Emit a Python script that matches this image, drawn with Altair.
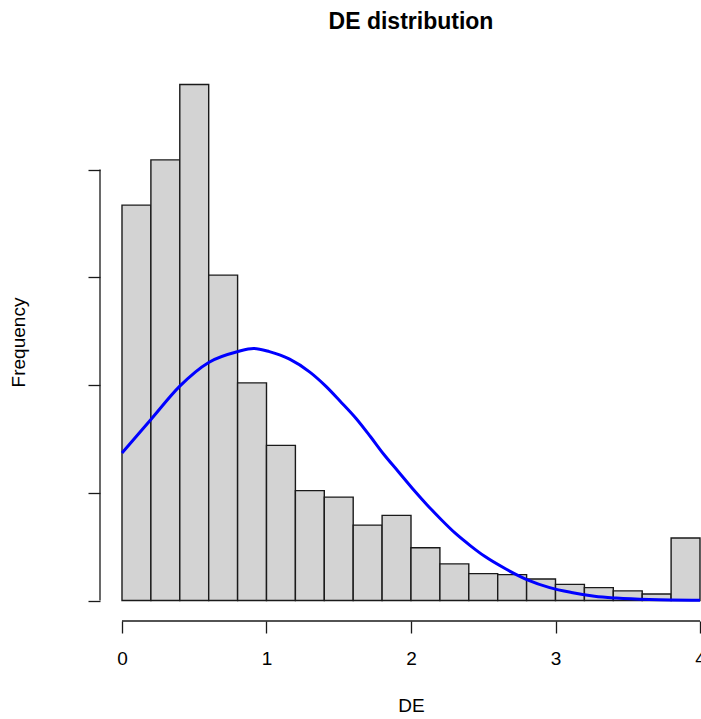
import altair as alt
import pandas as pd

# Histogram of DE values: bin edges (width 0.2) and counts per bin
bin_lo = [0.0, 0.2, 0.4, 0.6, 0.8, 1.0, 1.2, 1.4, 1.6, 1.8,
          2.0, 2.2, 2.4, 2.6, 2.8, 3.0, 3.2, 3.4, 3.6, 3.8]
bin_hi = [0.2, 0.4, 0.6, 0.8, 1.0, 1.2, 1.4, 1.6, 1.8, 2.0,
          2.2, 2.4, 2.6, 2.8, 3.0, 3.2, 3.4, 3.6, 3.8, 4.0]
counts = [367, 409, 479, 302, 202, 144, 102, 96, 70, 79,
          49, 34, 25, 24, 20, 15, 12, 9, 6, 58]

# Fitted normal curve, scaled to frequency
curve_x = [0.00, 0.20, 0.40, 0.60, 0.80, 0.91, 1.02, 1.16, 1.30, 1.41,
           1.51, 1.62, 1.72, 1.81, 1.91, 2.01, 2.11, 2.21, 2.31, 2.41,
           2.51, 2.66, 2.81, 2.96, 3.11, 3.27, 3.42, 3.65, 4.00]
curve_y = [137, 168, 199, 221, 231, 234, 231, 224, 212, 199,
           185, 169, 152, 136, 120, 104, 89, 75, 62, 51,
           41, 29, 19, 12, 7.5, 4, 2.3, 0.9, 0.2]

# Axis ticks
x_ticks = [0, 1, 2, 3, 4]
y_ticks = [0, 100, 200, 300, 400]

FONT = "Liberation Sans"
INK = "#1a1a1a"

hist_df = pd.DataFrame({"lo": bin_lo, "hi": bin_hi, "n": counts})
curve_df = pd.DataFrame({"x": curve_x, "y": curve_y})
xaxis_df = pd.DataFrame({"a": [min(x_ticks)], "b": [max(x_ticks)]})
yaxis_df = pd.DataFrame({"a": [min(y_ticks)], "b": [max(y_ticks)]})

x_scale = alt.Scale(domain=[-0.1522, 4.0069], nice=False, zero=False)
y_scale = alt.Scale(domain=[-19, 498], nice=False, zero=False)

x_axis = alt.Axis(
    values=x_ticks, format="d", domain=False, grid=False, tickSize=12,
    tickColor=INK, tickWidth=1.3, labelFont=FONT, labelFontSize=19,
    labelColor="#000", labelBaseline="middle", labelPadding=25,
    labelFlush=False, labelOverlap=False, title="DE", titleFont=FONT,
    titleFontSize=19, titleFontWeight="normal", titleColor="#000",
    titleBaseline="middle", titleY=84, titleX=311,
)
y_axis = alt.Axis(
    values=y_ticks, domain=False, grid=False, labels=False, tickSize=12,
    tickColor=INK, tickWidth=1.3, title="Frequency", titleFont=FONT,
    titleFontSize=19, titleFontWeight="normal", titleColor="#000",
    titleBaseline="middle", titleAlign="center", titleAngle=-90,
    titleX=-82, titleY=278,
)

bars = alt.Chart(hist_df).mark_rect(
    fill="#D3D3D3", stroke=INK, strokeWidth=1.4
).encode(
    x=alt.X("lo:Q", scale=x_scale, axis=x_axis),
    x2="hi:Q",
    y=alt.Y("n:Q", scale=y_scale, axis=y_axis),
    y2=alt.datum(0),
)

curve = alt.Chart(curve_df).mark_line(
    color="#0000FF", strokeWidth=3, interpolate="monotone"
).encode(
    x=alt.X("x:Q", scale=x_scale),
    y=alt.Y("y:Q", scale=y_scale),
)

x_line = alt.Chart(xaxis_df).mark_rule(color=INK, strokeWidth=1.3).encode(
    x=alt.X("a:Q", scale=x_scale),
    x2="b:Q",
    y=alt.value(557),
)

y_line = alt.Chart(yaxis_df).mark_rule(color=INK, strokeWidth=1.3).encode(
    y=alt.Y("a:Q", scale=y_scale),
    y2="b:Q",
    x=alt.value(0),
)

chart = alt.layer(bars, curve, x_line, y_line).properties(
    width=601,
    height=557,
    title=alt.TitleParams(
        "DE distribution", font=FONT, fontSize=23, fontWeight="bold",
        color="#000", anchor="middle", dx=10.5, offset=30,
    ),
    padding={"left": 100, "top": 64, "right": 0, "bottom": 98},
    autosize=alt.AutoSizeParams(type="none"),
).configure(background="white").configure_view(stroke=None)

chart.save("out.html", embed_options={"renderer": "svg", "actions": False})
